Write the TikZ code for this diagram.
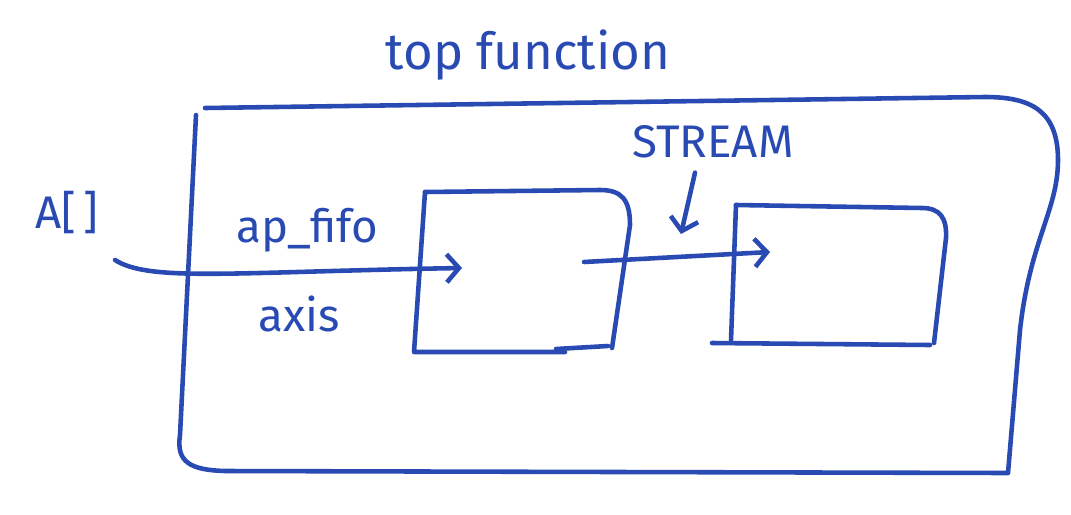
\documentclass[tikz,border=0pt]{standalone}
\usepackage{fontspec}
\setmainfont{Fira Sans}
\usetikzlibrary{arrows.meta}

\definecolor{inkblue}{RGB}{40,74,178}
\tikzset{
  pen/.style = {draw = inkblue, line width = 2.6pt, line cap = round, line join = round},
  flow/.style = {pen, -{Straight Barb[length = 7pt, width = 16pt, line width = 2.6pt]}},
  note/.style = {inkblue, font = \fontsize{26}{30}\selectfont, inner sep = 0pt}
}

\begin{document}
\begin{tikzpicture}[x = 0.02cm, y = -0.02cm]
\useasboundingbox (0, 0) rectangle (1071, 514);

% labels
\node[note, font = \fontsize{29}{33}\selectfont] (topname) at (528, 55) {top function};
\node[note] (arr) at (67, 213) {A[\,]};
\node[note] (fifoname) at (307, 230) {ap\_fifo};
\node[note] (axisname) at (299, 314) {axis};
\node[note] (streamname) at (713, 142) {STREAM};

% outer function
\draw[pen] (196, 115) -- (180, 435) .. controls (176, 462) and (190, 470) .. (225, 471)
  -- (1008, 473) -- (1020, 330) .. controls (1030, 240) and (1058, 210) .. (1058, 160)
  .. controls (1058, 110) and (1030, 97) .. (985, 97) -- (205, 108);

% first block
\draw[pen] (425, 192) -- (600, 190) .. controls (622, 190) and (630, 200) .. (630, 225)
  -- (612, 348);
\draw[pen] (425, 192) -- (414, 352) -- (565, 352);
\draw[pen] (556, 349) -- (608, 346);

% second block
\draw[pen] (736, 205) -- (922, 208) .. controls (940, 208) and (947, 218) .. (946, 238)
  -- (934, 343);
\draw[pen] (736, 205) -- (731, 340);
\draw[pen] (712, 343) -- (930, 345);

% endpoints
\coordinate (ain) at (115, 260);
\coordinate (fifoin) at (462, 268);
\coordinate (fifoout) at (584, 262);
\coordinate (streamin) at (770, 252);
\coordinate (streamtip) at (681, 234);

% flows
\draw[flow] (ain) .. controls (150, 282) and (230, 272) .. (fifoin);
\draw[flow] (fifoout) -- (streamin);
\draw[flow] (streamname.south -| 695, 0) ++(0, 14) -- (streamtip);
\end{tikzpicture}
\end{document}
